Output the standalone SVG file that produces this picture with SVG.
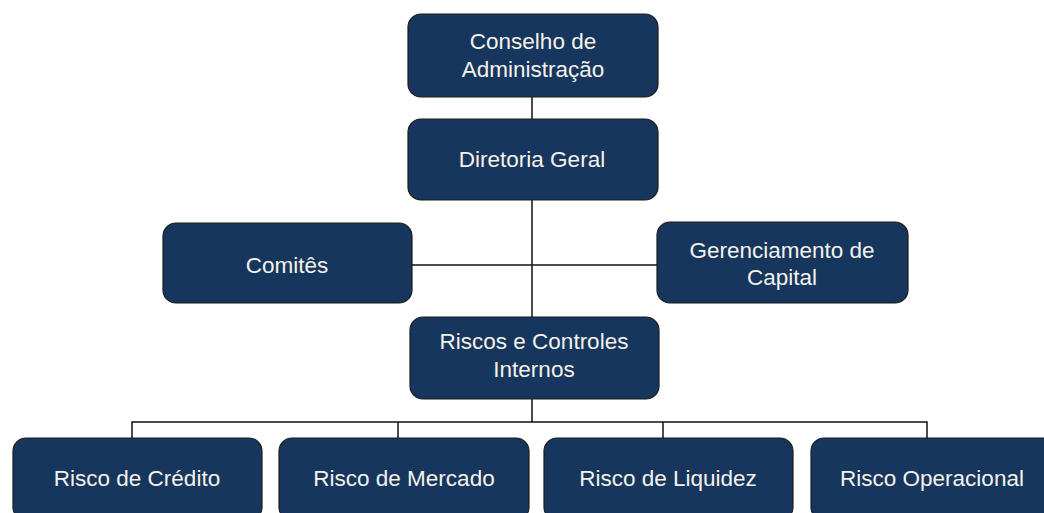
<svg xmlns="http://www.w3.org/2000/svg" width="1044" height="513" viewBox="0 0 1044 513">
<style>
.box{fill:#17365d;stroke:#1c1c1c;stroke-width:1.2}
.t{font-family:"Liberation Sans",Arial,sans-serif;font-size:22.5px;fill:#f4f2ea;text-anchor:middle}
.c{stroke:#111;stroke-width:1.5;fill:none}
</style>
<rect width="1044" height="513" fill="#ffffff"/>
<g id="connectors">
<line class="c" x1="532" y1="97" x2="532" y2="119"/>
<line class="c" x1="532" y1="200" x2="532" y2="318"/>
<line class="c" x1="412" y1="265" x2="657" y2="265"/>
<line class="c" x1="532" y1="399" x2="532" y2="422"/>
<polyline class="c" points="132,438 132,422 927,422 927,438"/>
<line class="c" x1="398" y1="422" x2="398" y2="438"/>
<line class="c" x1="663" y1="422" x2="663" y2="438"/>
</g>
<g id="conselho">
<rect class="box" x="408" y="14" width="250" height="83" rx="13"/>
<text class="t" x="533" y="49">Conselho de</text>
<text class="t" x="533" y="77">Administração</text>
</g>
<g id="diretoria">
<rect class="box" x="408" y="119" width="250" height="81" rx="13"/>
<text class="t" x="532" y="167">Diretoria Geral</text>
</g>
<g id="comites">
<rect class="box" x="163" y="223" width="249" height="80" rx="13"/>
<text class="t" x="287" y="273">Comitês</text>
</g>
<g id="gerenciamento">
<rect class="box" x="657" y="222" width="251" height="81" rx="13"/>
<text class="t" x="782" y="258">Gerenciamento de</text>
<text class="t" x="782" y="285">Capital</text>
</g>
<g id="riscos">
<rect class="box" x="410" y="317" width="249" height="82" rx="13"/>
<text class="t" x="534" y="349">Riscos e Controles</text>
<text class="t" x="534" y="377">Internos</text>
</g>
<g id="credito">
<rect class="box" x="13" y="438" width="249" height="82" rx="13"/>
<text class="t" x="137" y="486">Risco de Crédito</text>
</g>
<g id="mercado">
<rect class="box" x="279" y="438" width="250" height="82" rx="13"/>
<text class="t" x="404" y="486">Risco de Mercado</text>
</g>
<g id="liquidez">
<rect class="box" x="544" y="438" width="249" height="82" rx="13"/>
<text class="t" x="668" y="486">Risco de Liquidez</text>
</g>
<g id="operacional">
<rect class="box" x="811" y="438" width="250" height="82" rx="13"/>
<text class="t" x="932" y="486">Risco Operacional</text>
</g>
</svg>
